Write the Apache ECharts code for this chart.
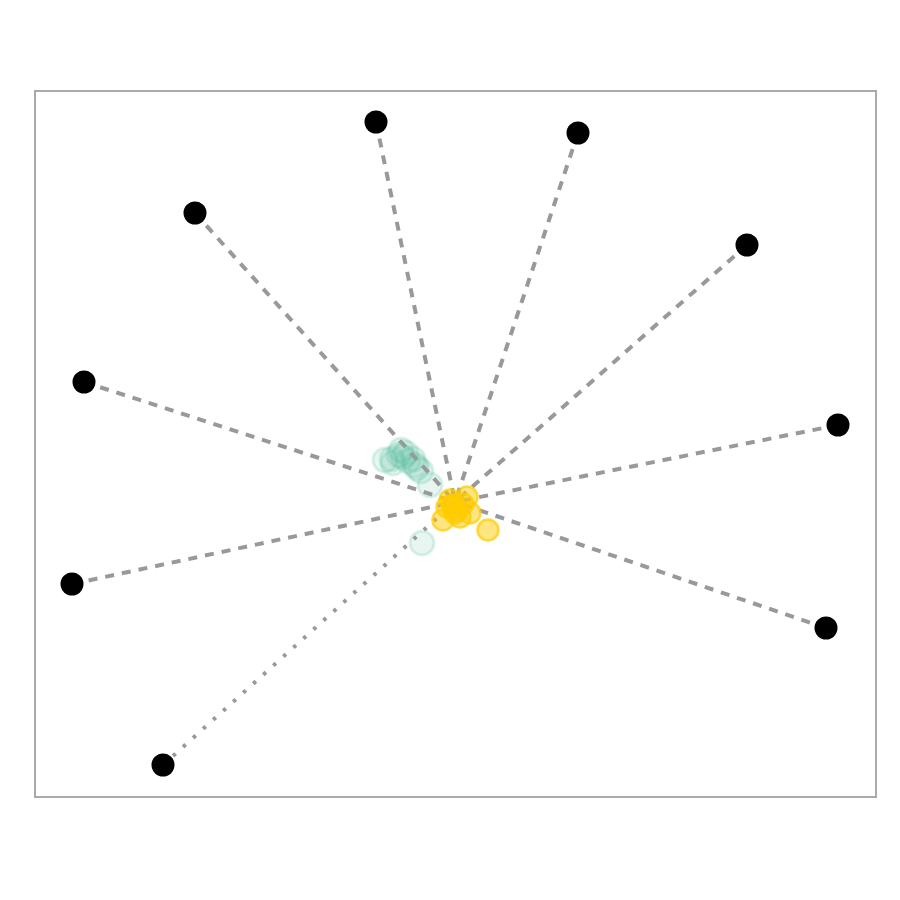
<!DOCTYPE html>
<html><head><meta charset="utf-8">
<script src="https://cdn.jsdelivr.net/npm/echarts@6/dist/echarts.min.js"></script>
<style>html,body{margin:0;padding:0;background:#fff}#c{width:900px;height:900px}</style>
</head><body><div id="c"></div>
<script>
// coordinates in plot units (x: 0..841 left->right, y: 0..706 bottom->top)
const anchors = [[341,675],[543,664],[712,552],[803,372],[791,169],[128,32],[37,213],[49,415],[160,584]];
const dottedAnchor = 5;
const center = [420,295];
const greenPts = [[350,337],[357,338],[364,342],[366,347],[373,336],[380,332],[386,326],[395,312],[387,254],[378,338],[368,340],[358,334],[382,329],[371,344]];
const yellowPts = [[418,290],[432,300],[408,277],[425,280],[435,284],[453,267],[415,297],[422,287],[428,293],[412,290],[420,284],[418,292]];

const lineSeries = anchors.map((a,i)=>({
  type:'line', data:[a, center], symbol:'none', silent:true, z:2,
  lineStyle:{color:'#999', opacity:1, width:4, type: i===dottedAnchor?[3.5,10]:[9,8]}
}));
const chart = echarts.init(document.getElementById('c'));
chart.setOption({
  animation:false,
  grid:{left:35, top:91, width:841, height:706, show:true, borderColor:'#aaa', borderWidth:2, backgroundColor:'#fff'},
  xAxis:{type:'value', min:0, max:841, show:false},
  yAxis:{type:'value', min:0, max:706, show:false},
  series:[...lineSeries,
    {type:'scatter', data:greenPts, symbolSize:24, z:1,
     itemStyle:{opacity:1, color:'rgba(102,194,165,0.15)', borderColor:'rgba(102,194,165,0.22)', borderWidth:3}},
    {type:'scatter', data:yellowPts, symbolSize:21, z:4,
     itemStyle:{opacity:1, color:'rgba(255,204,0,0.5)', borderColor:'rgba(255,204,0,0.7)', borderWidth:2.5}},
    {type:'scatter', data:anchors, symbolSize:23, z:5, itemStyle:{opacity:1, color:'#000'}}
  ]
});
</script></body></html>
